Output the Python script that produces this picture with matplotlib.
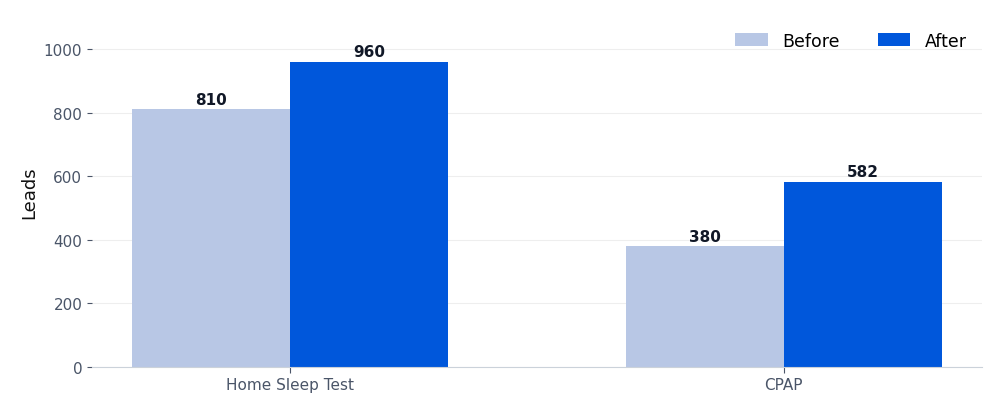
import matplotlib
matplotlib.use('Agg')
import matplotlib.pyplot as plt
import numpy as np

categories = ['Home Sleep Test', 'CPAP']
before = [810, 380]
after = [960, 582]

fig = plt.figure(figsize=(10, 4.14), dpi=100)
ax = fig.add_axes([0.092, 0.111, 0.890, 0.848])

x = np.arange(len(categories))
w = 0.32
b1 = ax.bar(x - w / 2, before, w, color='#b8c7e5', label='Before', zorder=2)
b2 = ax.bar(x + w / 2, after, w, color='#0057db', label='After', zorder=2)

# etiquetas de valor sobre cada barra
for bars in (b1, b2):
    for r in bars:
        ax.text(r.get_x() + r.get_width() / 2, r.get_height() + 8, f'{int(r.get_height())}',
                ha='center', va='bottom', fontsize=11, fontweight='bold', color='#111827')

ax.set_ylim(0, 1104)
ax.set_yticks([0, 200, 400, 600, 800, 1000])
ax.set_xticks(x)
ax.set_xticklabels(categories)
ax.set_ylabel('Leads', fontsize=13, color='#111111')
ax.tick_params(axis='both', labelsize=11, labelcolor='#4a5568', color='#4a5568')
ax.tick_params(axis='x', length=4, color='#4a5568')
ax.grid(axis='y', color='#eeeeee', linewidth=0.8, zorder=0)
for s in ('top', 'right', 'left'):
    ax.spines[s].set_visible(False)
ax.spines['bottom'].set_color('#cbd2da')

ax.legend(loc='upper right', ncol=2, frameon=False, fontsize=12.5,
          bbox_to_anchor=(1.0, 1.0), handlelength=1.9, columnspacing=2.2)

fig.savefig('out.png', dpi=100)
